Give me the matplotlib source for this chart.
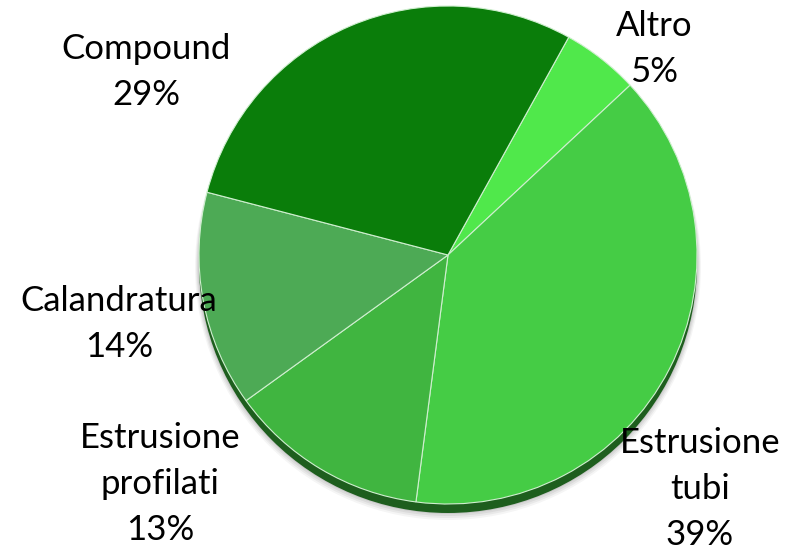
import matplotlib
matplotlib.use("Agg")
import matplotlib.pyplot as plt
from matplotlib.patches import Wedge

categories = ["Altro", "Estrusione\ntubi", "Estrusione\nprofilati", "Calandratura", "Compound"]
values = [5, 39, 13, 14, 29]
colors = ["#50E84B", "#45CC45", "#40B540", "#4DAA55", "#0A7D0A"]
label_pos = [(654, 49), (700, 489), (160, 484), (119, 324), (146, 72)]

fig = plt.figure(figsize=(7.89, 5.5), dpi=100)
ax = fig.add_axes([0, 0, 1, 1])
ax.set_xlim(0, 789)
ax.set_ylim(550, 0)
ax.set_aspect("equal")
ax.axis("off")

cx, cy, r = 448, 255, 249
# soft shadow
for i, a in enumerate([0.04, 0.05, 0.06, 0.07]):
    ax.add_patch(plt.Circle((cx, cy + 12 - i), r + 4 - i, color="black", alpha=a, lw=0))
# rim (thickness)
ax.add_patch(plt.Circle((cx, cy + 9), r, color="#1E5E1E", lw=0))

total = sum(values)
theta = 61.0
for v, c in zip(values, colors):
    span = 360.0 * v / total
    t1 = theta - span
    w = Wedge((cx, cy), r, -theta, -t1, facecolor=c, edgecolor="#CFEFCF", lw=0.8)
    ax.add_patch(w)
    theta = t1

for lab, v, (x, y) in zip(categories, values, label_pos):
    ax.text(x, y, f"{lab}\n{v}%", ha="center", va="center", fontsize=25,
            family="Lato", linespacing=1.55, color="black")

fig.savefig("out.png", dpi=100)
